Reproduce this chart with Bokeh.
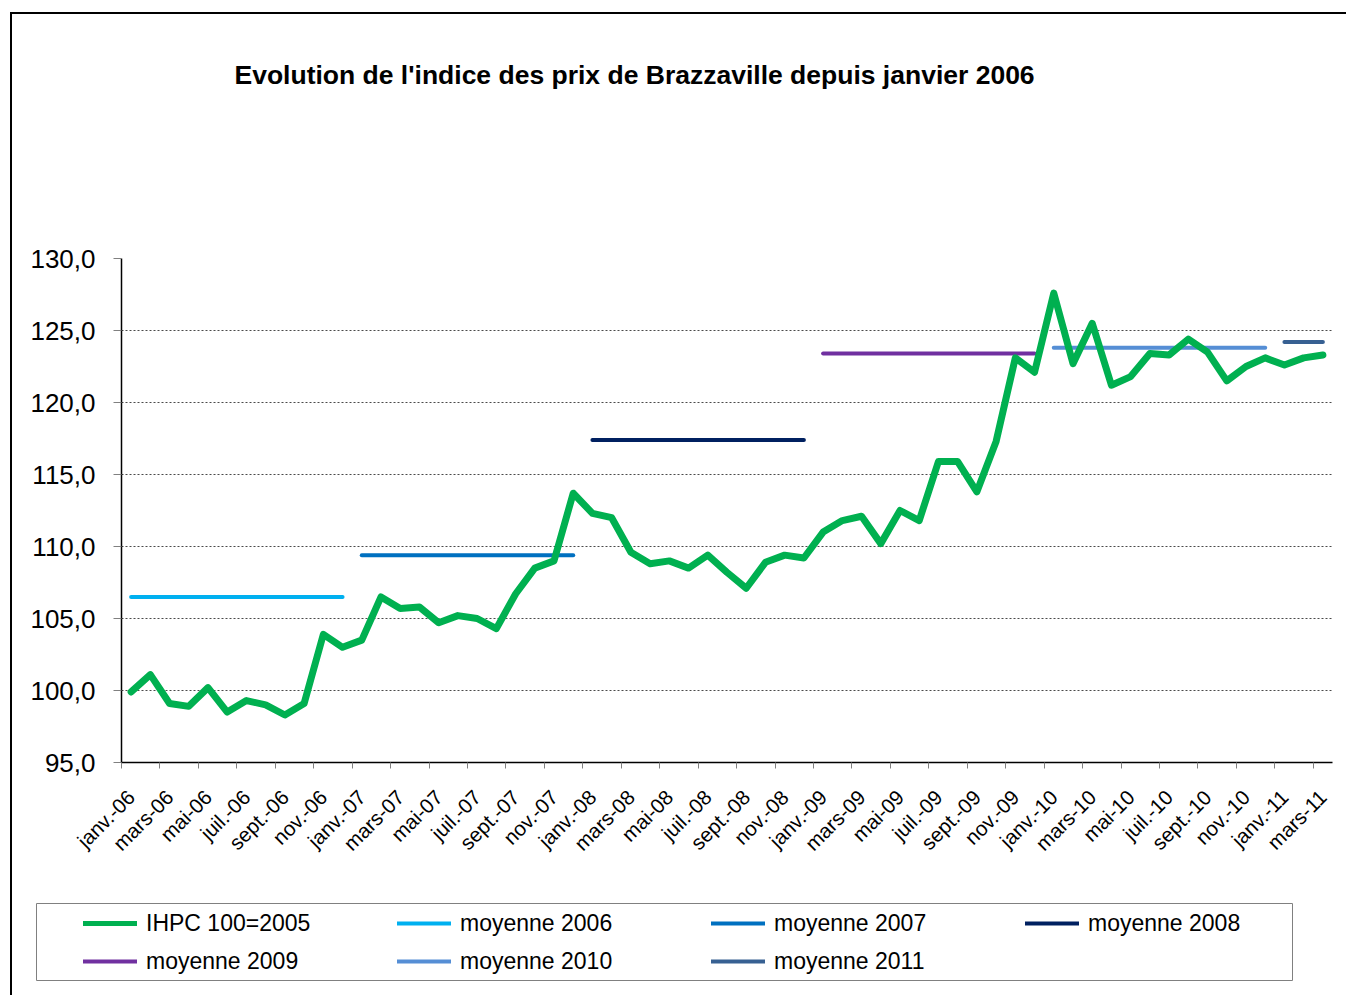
import math
from bokeh.plotting import figure
from bokeh.layouts import column
from bokeh.models import Range1d, FixedTicker, Legend, LegendItem, Label
from bokeh.embed import file_html
from bokeh.resources import INLINE

# ---------------- data ----------------
ihpc = [
    99.9, 101.1, 99.1, 98.9, 100.2, 98.5, 99.3, 99.0, 98.3, 99.1, 103.9, 103.0,      # 2006
    103.5, 106.5, 105.7, 105.8, 104.7, 105.2, 105.0, 104.3, 106.7, 108.5, 109.0, 113.7,  # 2007
    112.3, 112.0, 109.6, 108.8, 109.0, 108.5, 109.4, 108.2, 107.1, 108.9, 109.4, 109.2,  # 2008
    111.0, 111.8, 112.1, 110.2, 112.5, 111.8, 115.9, 115.9, 113.8, 117.3, 123.1, 122.1,  # 2009
    127.6, 122.7, 125.5, 121.2, 121.8, 123.4, 123.3, 124.4, 123.5, 121.5, 122.5, 123.1,  # 2010
    122.6, 123.1, 123.3,                                                                   # 2011
]
years = [2006, 2007, 2008, 2009, 2010, 2011]
moyennes = [106.5, 109.4, 117.4, 123.4, 123.8, 124.2]
tick_labels = ["janv.-06", "mars-06", "mai-06", "juil.-06", "sept.-06", "nov.-06",
               "janv.-07", "mars-07", "mai-07", "juil.-07", "sept.-07", "nov.-07",
               "janv.-08", "mars-08", "mai-08", "juil.-08", "sept.-08", "nov.-08",
               "janv.-09", "mars-09", "mai-09", "juil.-09", "sept.-09", "nov.-09",
               "janv.-10", "mars-10", "mai-10", "juil.-10", "sept.-10", "nov.-10",
               "janv.-11", "mars-11"]
y_ticks = [95, 100, 105, 110, 115, 120, 125, 130]
series_label = "IHPC 100=2005"
title_text = "Evolution de l'indice des prix de Brazzaville depuis janvier 2006"

avg_colors = ["#00B0F0", "#0070C0", "#002060", "#7030A0", "#558ED5", "#376092"]
green = "#00B050"
FONT = "Liberation Sans"

n = len(ihpc)
xs = list(range(n))

W = 1346
H_TITLE, H_MAIN, H_LEG = 120, 760, 115


def no_frame_align(fig):
    try:
        fig.frame_align = False
    except Exception:
        pass
    return fig


def yearly_segments():
    segs = []
    for k, (yr, m) in enumerate(zip(years, moyennes)):
        start = 12 * k
        end = min(12 * k + 11, n - 1)
        segs.append((yr, [start, end], [m, m]))
    return segs


# ---------------- title strip ----------------
pt = figure(width=W, height=H_TITLE, output_backend="svg", toolbar_location=None,
            x_range=Range1d(0, W), y_range=Range1d(H_TITLE, 0),
            x_axis_location=None, y_axis_location=None,
            min_border_left=0, min_border_right=0, min_border_top=0, min_border_bottom=0)
no_frame_align(pt)
pt.grid.visible = False
pt.outline_line_color = None
pt.border_fill_color = None
pt.background_fill_color = None
pt.add_layout(Label(x=234, y=74, text=title_text, text_font=FONT, text_font_size="26.5px",
                    text_font_style="bold", text_baseline="middle", text_align="left",
                    text_color="#000000"))

# ---------------- main chart ----------------
p = figure(width=W, height=H_MAIN, output_backend="svg", toolbar_location=None,
           x_range=Range1d(-0.5, n - 0.5), y_range=Range1d(95, 130), title=None,
           min_border_left=121, min_border_right=14, min_border_top=138,
           min_border_bottom=118)
no_frame_align(p)
p.outline_line_color = None
p.background_fill_color = "white"
p.border_fill_color = None

p.xgrid.visible = False
p.ygrid.ticker = FixedTicker(ticks=[t for t in y_ticks if 95 < t < 130])
p.ygrid.grid_line_color = "#4a4a4a"
p.ygrid.grid_line_dash = "2 2"
p.ygrid.grid_line_width = 1

ya = p.yaxis[0]
ya.ticker = FixedTicker(ticks=y_ticks)
ya.major_label_overrides = {t: f"{t:.1f}".replace(".", ",") for t in y_ticks}
ya.major_label_text_font = FONT
ya.major_label_text_font_size = "26px"
ya.major_label_text_color = "#000000"
ya.axis_line_color = "#000000"
ya.axis_line_width = 1.5
ya.major_tick_line_color = "#808080"
ya.major_tick_out = 8
ya.major_tick_in = 0
ya.minor_tick_line_color = None
ya.major_label_standoff = 18

xa = p.xaxis[0]
centers = list(range(0, n, 2))
xa.ticker = FixedTicker(ticks=centers, minor_ticks=[c - 0.5 for c in centers])
xa.major_label_overrides = {c: lab for c, lab in zip(centers, tick_labels)}
xa.major_label_orientation = math.pi / 4
xa.major_label_text_font = FONT
xa.major_label_text_font_size = "20.5px"
xa.major_label_text_color = "#000000"
xa.major_label_standoff = 25
xa.axis_line_color = "#000000"
xa.axis_line_width = 1.5
xa.major_tick_line_color = None
xa.minor_tick_line_color = "#808080"
xa.minor_tick_out = 6
xa.minor_tick_in = 0

for (yr, sx, sy), c in zip(yearly_segments(), avg_colors):
    p.line(sx, sy, line_color=c, line_width=4, line_cap="round")

p.line(xs, ihpc, line_color=green, line_width=7, line_join="round", line_cap="round")

# ---------------- legend strip ----------------
# the legend box is this strip's frame; its series are drawn here too, but fall
# outside its (0..1) y range, so only their legend samples are visible
pl = figure(width=W, height=H_LEG, output_backend="svg", toolbar_location=None,
            x_range=Range1d(0, 1), y_range=Range1d(0, 1),
            x_axis_location=None, y_axis_location=None,
            min_border_left=36, min_border_right=54, min_border_top=23, min_border_bottom=15)
no_frame_align(pl)
pl.grid.visible = False
pl.border_fill_color = None
pl.background_fill_color = "white"
pl.outline_line_color = "#808080"
pl.outline_line_width = 1

leg_renderers = [pl.line(xs, ihpc, line_color=green, line_width=5, line_cap="round")]
leg_labels = [series_label]
for (yr, sx, sy), c in zip(yearly_segments(), avg_colors):
    leg_renderers.append(pl.line(sx, sy, line_color=c, line_width=4, line_cap="round"))
    leg_labels.append(f"moyenne {yr}")

legend = Legend(items=[LegendItem(label=l, renderers=[r]) for l, r in zip(leg_labels, leg_renderers)],
                location=(47, 0), orientation="horizontal", ncols=4,
                padding=0, spacing=0, margin=0, glyph_width=54, glyph_height=38,
                label_height=38, label_width=251, label_standoff=9,
                label_text_font=FONT, label_text_font_size="23px",
                label_text_color="#000000",
                border_line_alpha=0, background_fill_alpha=0)
pl.add_layout(legend)

layout = column(pt, p, pl, spacing=0)
layout.styles = {
    "background-color": "white",
    "background-image": "linear-gradient(#000,#000), linear-gradient(#000,#000)",
    "background-position": "10px 12px, 10px 12px",
    "background-size": "2px 100%, 100% 2px",
    "background-repeat": "no-repeat",
}

open("out.html", "w").write(file_html(layout, INLINE))
